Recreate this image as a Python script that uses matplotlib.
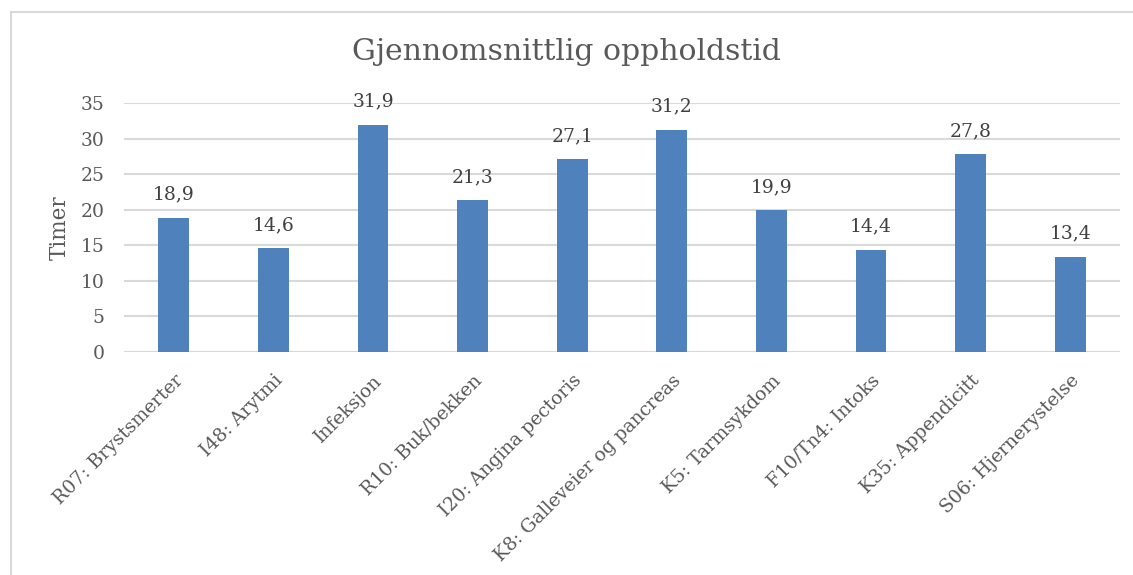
import matplotlib.pyplot as plt
from matplotlib.patches import Rectangle

categories = ['R07: Brystsmerter', 'I48: Arytmi', 'Infeksjon', 'R10: Buk/bekken',
              'I20: Angina pectoris', 'K8: Galleveier og pancreas', 'K5: Tarmsykdom',
              'F10/Tn4: Intoks', 'K35: Appendicitt', 'S06: Hjernerystelse']
hours = [18.9, 14.6, 31.9, 21.3, 27.1, 31.2, 19.9, 14.4, 27.8, 13.4]
yticks = [0, 5, 10, 15, 20, 25, 30, 35]

text_col = '#595959'
grid_col = '#d9d9d9'
plt.rcParams['font.family'] = ['DejaVu Serif']

fig = plt.figure(figsize=(11.33, 5.75), dpi=100)
# outer chart frame
fig.patches.append(Rectangle((11 / 1133, -0.05), 1.2, 1 - 12 / 575 + 0.05,
                             transform=fig.transFigure, fill=False,
                             edgecolor=grid_col, linewidth=1.5))

ax = fig.add_axes([124 / 1133, 1 - 352 / 575, (1120 - 124) / 1133, (352 - 103) / 575])
x = range(len(categories))
bars = ax.bar(x, hours, width=0.31, color='#4f81bd', zorder=3)
for xi, v in zip(x, hours):
    ax.text(xi, v + 2.0, f'{v:.1f}'.replace('.', ','), ha='center', va='bottom',
            fontsize=13.5, color='#404040')

ax.set_xlim(-0.5, len(categories) - 0.5)
ax.set_ylim(0, 35)
ax.set_yticks(yticks)
ax.yaxis.grid(True, color=grid_col, linewidth=1.5, zorder=0)
for s in ax.spines.values():
    s.set_visible(False)
ax.axhline(0, color=grid_col, linewidth=1.5, zorder=2)
ax.tick_params(axis='both', length=0, labelsize=13.5, labelcolor=text_col)
ax.tick_params(axis='y', pad=14)
ax.set_xticks(list(x))
ax.set_xticklabels(categories, rotation=45, ha='right', rotation_mode='anchor')
ax.tick_params(axis='x', pad=14)
ax.set_ylabel('Timer', fontsize=15.5, color=text_col, labelpad=7)
fig.text(0.5, 1 - 52 / 575, 'Gjennomsnittlig oppholdstid', ha='center', va='center',
         fontsize=21.5, color=text_col)

fig.savefig('out.png', dpi=100, facecolor='white')
